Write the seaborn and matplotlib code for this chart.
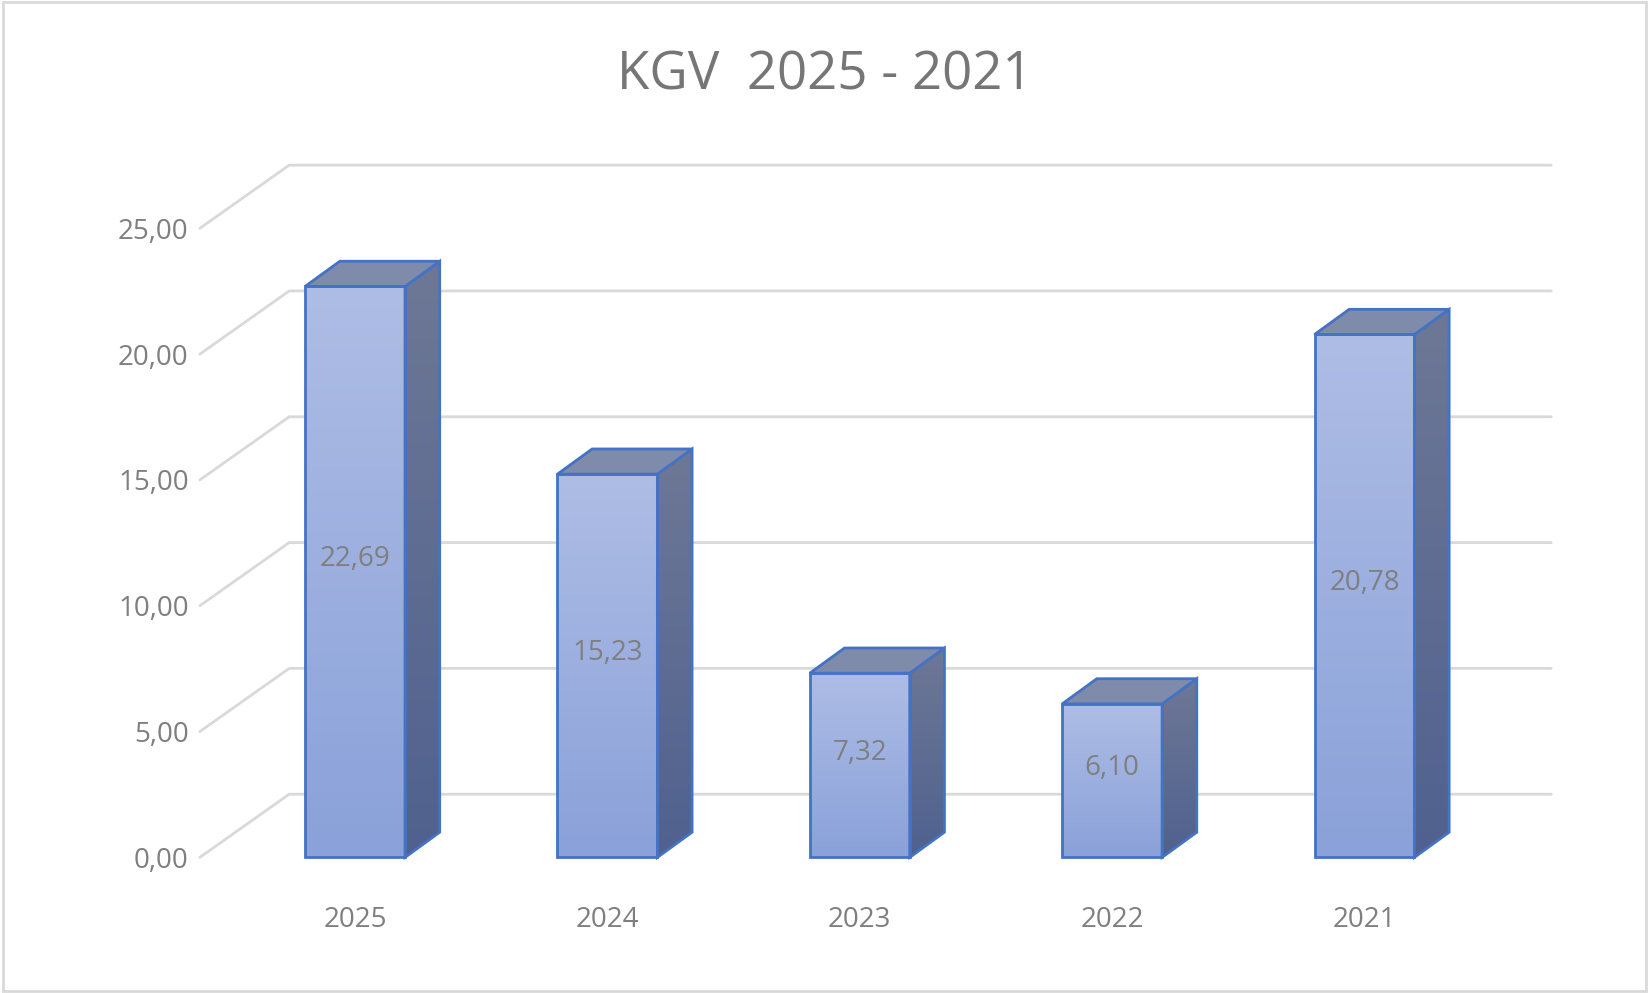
import numpy as np
import pandas as pd
import matplotlib
matplotlib.use("Agg")
import matplotlib.pyplot as plt
import seaborn as sns
from matplotlib.patches import Polygon, Rectangle

years = ["2025", "2024", "2023", "2022", "2021"]
kgv = [22.69, 15.23, 7.32, 6.10, 20.78]
yticks = [0, 5, 10, 15, 20, 25]
title = "KGV  2025 - 2021"

sns.set_theme(style="white")
plt.rcParams['font.family'] = ['Open Sans', 'DejaVu Sans']
gray = "#7f7f7f"

fig = plt.figure(figsize=(16.49, 9.93), dpi=100)
ax = fig.add_axes([0.1212, 0.1186, 0.8195, 0.6971])
df = pd.DataFrame({"year": years, "kgv": kgv})

xl, xr = -0.615, 4.74
yb, yt = -0.71, 26.8
bdx, bdy = 0.354, 2.51      # back wall offset
sdx, sdy = 0.1375, 1.0      # bar depth offset
w = 0.396

# grid (back wall + floor diagonals)
for v in yticks:
    ax.plot([xl, xl + bdx, xr], [v, v + bdy, v + bdy], color="#d9d9d9", lw=2, zorder=0, clip_on=False)

sns.barplot(data=df, x="year", y="kgv", width=w, color="#9aaedd", edgecolor="#4472c4",
            linewidth=2, ax=ax, zorder=3)

grad = np.linspace(0, 1, 256).reshape(-1, 1)
from matplotlib.colors import LinearSegmentedColormap
front_cm = LinearSegmentedColormap.from_list("f", ["#8aa1d9", "#aebde5"])
side_cm = LinearSegmentedColormap.from_list("s", ["#50618f", "#6e7896"])
for i, p in enumerate(ax.patches):
    x0 = p.get_x(); x1 = x0 + p.get_width(); h = p.get_height()
    im = ax.imshow(grad, cmap=front_cm, extent=[x0, x1, 0, h], origin="lower", aspect="auto", zorder=3.1)
    im.set_clip_path(p)
    p.set_facecolor("none"); p.set_zorder(3.5)
    side = Polygon([[x1, 0], [x1 + sdx, sdy], [x1 + sdx, h + sdy], [x1, h]], closed=True,
                   facecolor="none", edgecolor="#4472c4", lw=2, zorder=3.5)
    ax.add_patch(side)
    ims = ax.imshow(grad, cmap=side_cm, extent=[x1, x1 + sdx, 0, h + sdy], origin="lower", aspect="auto", zorder=3.1)
    ims.set_clip_path(side)
    ax.add_patch(Polygon([[x0, h], [x0 + sdx, h + sdy], [x1 + sdx, h + sdy], [x1, h]], closed=True,
                         facecolor="#7f8bab", edgecolor="#4472c4", lw=2, zorder=3.5))
    ax.text((x0 + x1) / 2, h / 2 + 0.5, f"{kgv[i]:.2f}".replace(".", ","), ha="center", va="center",
            fontsize=20, color=gray, zorder=5)

ax.set_xlim(xl, xr); ax.set_ylim(yb, yt)
ax.set_yticks(yticks)
ax.set_yticklabels([f"{v:.2f}".replace(".", ",") for v in yticks], fontsize=20, color=gray)
ax.tick_params(axis="y", length=0, pad=8)
ax.tick_params(axis="x", length=0, pad=22, labelsize=20, labelcolor=gray)
ax.set_xlabel(""); ax.set_ylabel("")
for s in ax.spines.values():
    s.set_visible(False)
ax.patch.set_alpha(0)

fig.text(0.5, 0.924, title, ha="center", va="center", fontsize=38, color="#767676")
fig.patches.append(Rectangle((0.002, 0.002), 0.996, 0.996, transform=fig.transFigure,
                             fill=False, edgecolor="#d9d9d9", lw=2))
fig.savefig("out.png", dpi=100)
